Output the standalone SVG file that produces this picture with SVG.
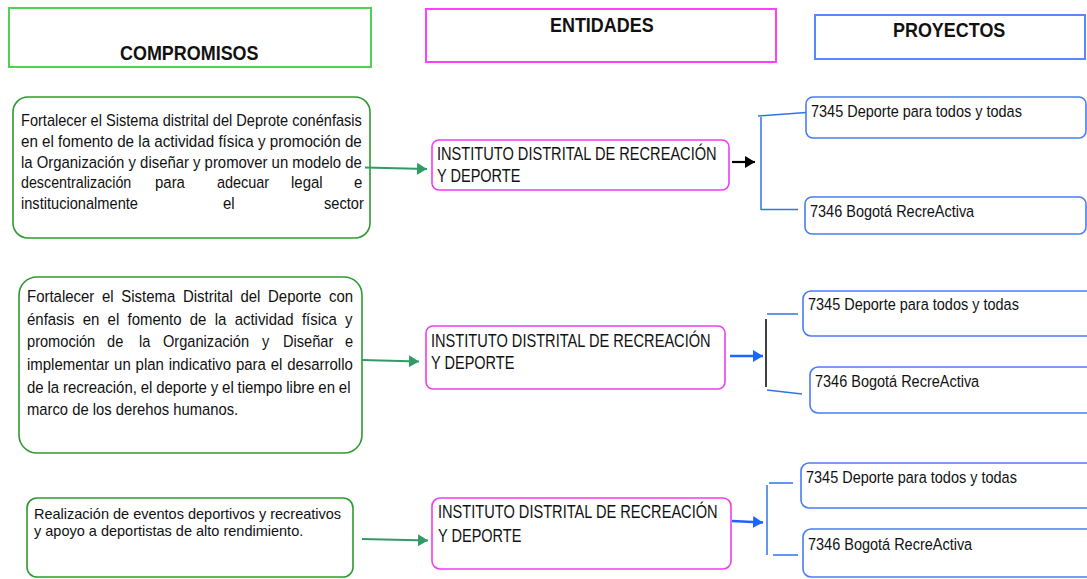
<svg xmlns="http://www.w3.org/2000/svg" width="1087" height="579" viewBox="0 0 1087 579">
<style>
text{font-family:"Liberation Sans",Arial,sans-serif;fill:#111;}
.hd{font-weight:bold;font-size:21px;}
.c17{font-size:17px;}
.e17{font-size:17.5px;}
.p16{font-size:16.5px;}
.t14{font-size:14.5px;}
.hc{fill:#fff;stroke:#4fd24f;stroke-width:2;}
.he{fill:#fff;stroke:#ff40ff;stroke-width:2;}
.hp{fill:#fff;stroke:#5a86ff;stroke-width:2;}
.cb{fill:#fff;stroke:#2f9a2f;stroke-width:1.6;}
.eb{fill:#fff;stroke:#f03cf0;stroke-width:1.6;}
.pb{fill:#fff;stroke:#4a7cf5;stroke-width:1.6;}
.ga{stroke:#339966;stroke-width:2;fill:none;}
.ba{stroke:#1a66ff;stroke-width:2.5;fill:none;}
.ka{stroke:#000;stroke-width:2.2;fill:none;}
.bl{stroke:#2f74e8;stroke-width:1.5;fill:none;}
.kl{stroke:#000;stroke-width:1.5;fill:none;}
</style>
<defs>
<marker id="mg" viewBox="0 0 10 12" refX="10" refY="6" markerWidth="10" markerHeight="12" markerUnits="userSpaceOnUse" orient="auto"><path d="M0,0 L10,6 L0,12 z" fill="#339966"/></marker>
<marker id="mb" viewBox="0 0 10 12" refX="10" refY="6" markerWidth="10" markerHeight="12" markerUnits="userSpaceOnUse" orient="auto"><path d="M0,0 L10,6 L0,12 z" fill="#1a66ff"/></marker>
<marker id="mk" viewBox="0 0 10 12" refX="10" refY="6" markerWidth="10" markerHeight="12" markerUnits="userSpaceOnUse" orient="auto"><path d="M0,0 L10,6 L0,12 z" fill="#000"/></marker>
</defs>

<g id="h-compromisos">
<rect class="hc" x="9" y="8" width="362" height="59"/>
<text class="hd" transform="translate(120 60) scale(0.855 1)">COMPROMISOS</text>
</g>
<g id="h-entidades">
<rect class="he" x="426" y="9" width="350" height="53"/>
<text class="hd" transform="translate(550 32) scale(0.855 1)">ENTIDADES</text>
</g>
<g id="h-proyectos">
<rect class="hp" x="815" y="15" width="270" height="44"/>
<text class="hd" transform="translate(893 37) scale(0.855 1)">PROYECTOS</text>
</g>

<g id="compromiso-1">
<rect class="cb" x="13" y="97" width="357" height="141" rx="15"/>
<text class="c17" transform="translate(21 126) scale(0.857 1)">Fortalecer el Sistema distrital del Deprote conénfasis</text>
<text class="c17" transform="translate(21 147) scale(0.893 1)">en el fomento de la actividad física y promoción de</text>
<text class="c17" transform="translate(21 167.5) scale(0.876 1)">la Organización y diseñar y promover un modelo de</text>
<text class="c17" transform="translate(21 188) scale(0.84 1)">descentralización</text>
<text class="c17" transform="translate(155 188) scale(0.88 1)">para</text>
<text class="c17" transform="translate(217 188) scale(0.85 1)">adecuar</text>
<text class="c17" transform="translate(291 188) scale(0.88 1)">legal</text>
<text class="c17" transform="translate(354 188) scale(0.88 1)">e</text>
<text class="c17" transform="translate(21 209) scale(0.86 1)">institucionalmente</text>
<text class="c17" transform="translate(223 209) scale(0.88 1)">el</text>
<text class="c17" transform="translate(324 209) scale(0.86 1)">sector</text>
</g>

<g id="compromiso-2">
<rect class="cb" x="19" y="277" width="343" height="176" rx="18"/>
<text class="c17" style="word-spacing:4px" transform="translate(27 302) scale(0.88 1)">Fortalecer el Sistema Distrital del Deporte con</text>
<text class="c17" style="word-spacing:4.7px" transform="translate(27 325) scale(0.88 1)">énfasis en el fomento de la actividad física y</text>
<text class="c17" transform="translate(27 347) scale(0.86 1)">promoción</text>
<text class="c17" transform="translate(107 347) scale(0.86 1)">de</text>
<text class="c17" transform="translate(139 347) scale(0.86 1)">la</text>
<text class="c17" transform="translate(163 347) scale(0.86 1)">Organización</text>
<text class="c17" transform="translate(262 347) scale(0.86 1)">y</text>
<text class="c17" transform="translate(283 347) scale(0.86 1)">Diseñar</text>
<text class="c17" transform="translate(345 347) scale(0.86 1)">e</text>
<text class="c17" style="word-spacing:0.8px" transform="translate(27 370) scale(0.88 1)">implementar un plan indicativo para el desarrollo</text>
<text class="c17" style="word-spacing:-0.35px" transform="translate(27 392.5) scale(0.88 1)">de la recreación, el deporte y el tiempo libre en el</text>
<text class="c17" transform="translate(27 415) scale(0.87 1)">marco de los derehos humanos.</text>
</g>

<g id="compromiso-3">
<rect class="cb" x="27" y="498" width="326" height="79" rx="10"/>
<text class="t14" x="34" y="519">Realización de eventos deportivos y recreativos</text>
<text class="t14" x="34" y="535.5">y apoyo a deportistas de alto rendimiento.</text>
</g>

<g id="entidad-1">
<rect class="eb" x="432" y="140" width="297" height="50" rx="7"/>
<text class="e17" transform="translate(437 160) scale(0.835 1)">INSTITUTO DISTRITAL DE RECREACIÓN</text>
<text class="e17" transform="translate(437 181.5) scale(0.83 1)">Y DEPORTE</text>
</g>
<g id="entidad-2">
<rect class="eb" x="426" y="326" width="299" height="63" rx="7"/>
<text class="e17" transform="translate(431 346.5) scale(0.835 1)">INSTITUTO DISTRITAL DE RECREACIÓN</text>
<text class="e17" transform="translate(431 369) scale(0.83 1)">Y DEPORTE</text>
</g>
<g id="entidad-3">
<rect class="eb" x="432" y="498" width="299" height="71" rx="8"/>
<text class="e17" transform="translate(438 518) scale(0.835 1)">INSTITUTO DISTRITAL DE RECREACIÓN</text>
<text class="e17" transform="translate(438 541.5) scale(0.83 1)">Y DEPORTE</text>
</g>

<g id="proyecto-1a">
<rect class="pb" x="806" y="97" width="280" height="41" rx="7"/>
<text class="p16" transform="translate(811 117) scale(0.878 1)">7345 Deporte para todos y todas</text>
</g>
<g id="proyecto-1b">
<rect class="pb" x="805" y="197" width="281" height="37" rx="7"/>
<text class="p16" transform="translate(810 216.5) scale(0.878 1)">7346 Bogotá RecreActiva</text>
</g>
<g id="proyecto-2a">
<rect class="pb" x="803" y="291" width="295" height="45" rx="8"/>
<text class="p16" transform="translate(808 310) scale(0.878 1)">7345 Deporte para todos y todas</text>
</g>
<g id="proyecto-2b">
<rect class="pb" x="810" y="367" width="290" height="46" rx="8"/>
<text class="p16" transform="translate(815 386.5) scale(0.878 1)">7346 Bogotá RecreActiva</text>
</g>
<g id="proyecto-3a">
<rect class="pb" x="801" y="463" width="300" height="45" rx="8"/>
<text class="p16" transform="translate(806 482.5) scale(0.878 1)">7345 Deporte para todos y todas</text>
</g>
<g id="proyecto-3b">
<rect class="pb" x="803" y="529" width="300" height="48" rx="8"/>
<text class="p16" transform="translate(808 550) scale(0.878 1)">7346 Bogotá RecreActiva</text>
</g>

<g id="connectors">
<path class="ga" d="M365,167.5 L427,169" marker-end="url(#mg)"/>
<path class="ga" d="M362,360 L419,361.5" marker-end="url(#mg)"/>
<path class="ga" d="M362,539 L428,540.5" marker-end="url(#mg)"/>
<path class="ka" d="M732,162 L755,162" marker-end="url(#mk)"/>
<path class="ba" d="M730,356 L763,356" marker-end="url(#mb)"/>
<path class="ba" d="M732,521 L763,522.5" marker-end="url(#mb)"/>
<path class="bl" d="M761,117 L761,210"/>
<path class="bl" d="M758,116 L806,112.5"/>
<path class="bl" d="M761,209.5 L798,209.5"/>
<path class="kl" d="M766,319 L766,387"/>
<path class="bl" d="M767,314 L798,314"/>
<path class="bl" d="M767,390 L802,394"/>
<path class="bl" d="M767,485 L767,555"/>
<path class="bl" d="M769,483 L793,483"/>
<path class="bl" d="M773,555 L798,555"/>
</g>
</svg>
